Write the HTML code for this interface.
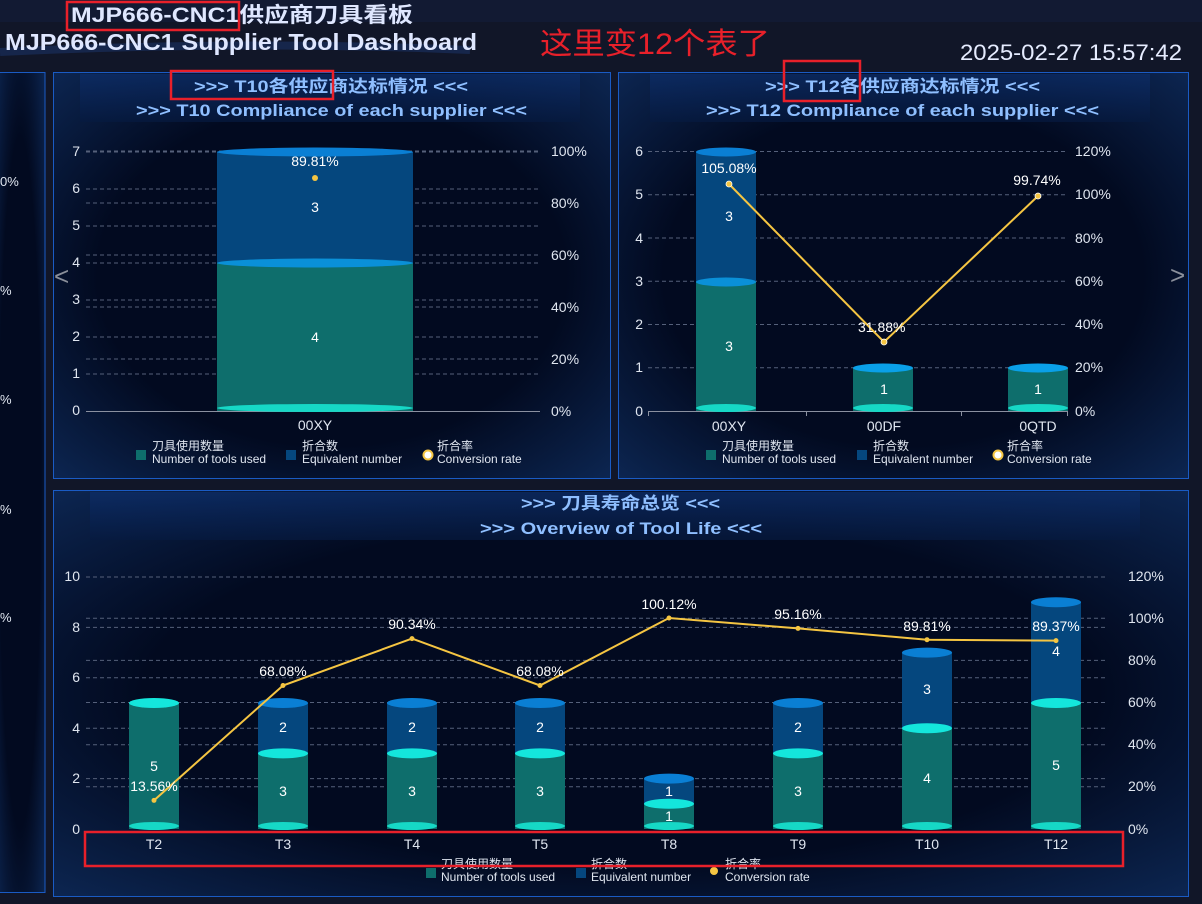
<!DOCTYPE html>
<html><head><meta charset="utf-8"><style>
html,body{margin:0;padding:0;background:#111628;}
svg{display:block;font-family:"Liberation Sans","Noto Sans CJK SC",sans-serif;}
</style></head><body>
<svg width="1202" height="904" viewBox="0 0 1202 904" xmlns="http://www.w3.org/2000/svg">
<defs>
<radialGradient id="pbg" cx="0.5" cy="0.5" r="0.7"><stop offset="0.6" stop-color="#020a20"/><stop offset="1" stop-color="#0c2550"/></radialGradient>
<linearGradient id="tb" x1="0" y1="0" x2="0" y2="1"><stop offset="0" stop-color="#0d2e6a"/><stop offset="1" stop-color="#061a40"/></linearGradient>
</defs>
<rect width="1202" height="904" fill="#111628"/>
<rect x="0" y="0" width="1202" height="22" fill="#121a33"/>
<path d="M0 52 Q250 40 470 50" stroke="#1d3f80" stroke-width="8" fill="none" opacity="0.4"/>
<text x="71" y="22" font-size="21" font-weight="bold" fill="#dfe7ff" textLength="342" lengthAdjust="spacingAndGlyphs">MJP666-CNC1供应商刀具看板</text>
<text x="5" y="50" font-size="23" font-weight="bold" fill="#dfe7ff" textLength="472" lengthAdjust="spacingAndGlyphs">MJP666-CNC1 Supplier Tool Dashboard</text>
<text x="540" y="54" font-size="30" fill="#e8202a" textLength="230" lengthAdjust="spacingAndGlyphs">这里变12个表了</text>
<text x="1182" y="60" font-size="22" fill="#e6ecff" text-anchor="end" textLength="222" lengthAdjust="spacingAndGlyphs">2025-02-27 15:57:42</text>

<!-- panels -->
<rect x="-5" y="72.5" width="50" height="820" fill="url(#pbg)" stroke="#1a5bc4"/>
<rect x="53.5" y="72.5" width="557" height="406" fill="url(#pbg)" stroke="#1a5bc4"/>
<rect x="618.5" y="72.5" width="570" height="406" fill="url(#pbg)" stroke="#1a5bc4"/>
<rect x="53.5" y="490.5" width="1135" height="406" fill="url(#pbg)" stroke="#1a5bc4"/>
<rect x="80" y="74" width="500" height="48" fill="url(#tb)" opacity="0.7"/>
<rect x="650" y="74" width="500" height="48" fill="url(#tb)" opacity="0.7"/>
<rect x="90" y="492" width="1050" height="48" fill="url(#tb)" opacity="0.7"/>

<g font-size="13" fill="#e0e6f0">
<text x="0" y="186">0%</text><text x="0" y="295">%</text><text x="0" y="404">%</text><text x="0" y="514">%</text><text x="0" y="622">%</text>
</g>

<g font-size="17" font-weight="bold" fill="#8fbfff">
<text x="194" y="92" textLength="274" lengthAdjust="spacingAndGlyphs">&gt;&gt;&gt; T10各供应商达标情况 &lt;&lt;&lt;</text>
<text x="136" y="116" textLength="391" lengthAdjust="spacingAndGlyphs">&gt;&gt;&gt; T10 Compliance of each supplier &lt;&lt;&lt;</text>
<text x="765" y="92" textLength="275" lengthAdjust="spacingAndGlyphs">&gt;&gt;&gt; T12各供应商达标情况 &lt;&lt;&lt;</text>
<text x="706" y="116" textLength="393" lengthAdjust="spacingAndGlyphs">&gt;&gt;&gt; T12 Compliance of each supplier &lt;&lt;&lt;</text>
<text x="521" y="509" textLength="199" lengthAdjust="spacingAndGlyphs">&gt;&gt;&gt; 刀具寿命总览 &lt;&lt;&lt;</text>
<text x="480" y="534" textLength="282" lengthAdjust="spacingAndGlyphs">&gt;&gt;&gt; Overview of Tool Life &lt;&lt;&lt;</text>
</g>
<text x="54" y="285" font-size="26" fill="#8a8f9a">&lt;</text>
<text x="1170" y="284" font-size="26" fill="#8a8f9a">&gt;</text>

<!-- Chart1 -->
<g stroke="#55607a" stroke-dasharray="4 3" stroke-width="1">
<line x1="86" x2="540" y1="374" y2="374"/><line x1="86" x2="540" y1="337" y2="337"/><line x1="86" x2="540" y1="300" y2="300"/><line x1="86" x2="540" y1="263" y2="263"/><line x1="86" x2="540" y1="226" y2="226"/><line x1="86" x2="540" y1="189" y2="189"/><line x1="86" x2="540" y1="152" y2="152"/>
<line x1="86" x2="540" y1="359" y2="359"/><line x1="86" x2="540" y1="307" y2="307"/><line x1="86" x2="540" y1="255" y2="255"/><line x1="86" x2="540" y1="203" y2="203"/><line x1="86" x2="540" y1="151" y2="151"/>
</g>
<line x1="86" x2="540" y1="411.5" y2="411.5" stroke="#8a90a0"/>
<rect x="217" y="263" width="196" height="148" fill="#0e6e6c"/>
<rect x="217" y="152" width="196" height="111" fill="#05477e"/>
<ellipse cx="315" cy="408" rx="98" ry="4" fill="#16d8c6"/>
<ellipse cx="315" cy="263" rx="98" ry="4.5" fill="#0a90d8"/>
<ellipse cx="315" cy="152" rx="98" ry="4.5" fill="#0a7fd4"/>
<circle cx="315" cy="178" r="3" fill="#f5c542"/>
<g font-size="14" fill="#ffffff" text-anchor="middle">
<text x="315" y="166">89.81%</text><text x="315" y="212">3</text><text x="315" y="342">4</text>
</g>
<g font-size="14" fill="#e0e6f0" text-anchor="end">
<text x="80" y="156">7</text><text x="80" y="193">6</text><text x="80" y="230">5</text><text x="80" y="267">4</text><text x="80" y="304">3</text><text x="80" y="341">2</text><text x="80" y="378">1</text><text x="80" y="415">0</text>
</g>
<g font-size="14" fill="#e0e6f0">
<text x="551" y="156">100%</text><text x="551" y="208">80%</text><text x="551" y="260">60%</text><text x="551" y="312">40%</text><text x="551" y="364">20%</text><text x="551" y="416">0%</text>
</g>
<text x="315" y="430" font-size="14" fill="#e0e6f0" text-anchor="middle">00XY</text>
<g font-size="12" fill="#e0e6f0">
<rect x="136" y="450" width="10" height="10" fill="#0e6e6c"/><text x="152" y="450">刀具使用数量</text><text x="152" y="463">Number of tools used</text>
<rect x="286" y="450" width="10" height="10" fill="#05477e"/><text x="302" y="450">折合数</text><text x="302" y="463">Equivalent number</text>
<circle cx="428" cy="455" r="4.5" fill="#fff" stroke="#f5c542" stroke-width="2"/><text x="437" y="450">折合率</text><text x="437" y="463">Conversion rate</text>
</g>

<!-- Chart2 -->
<g stroke="#55607a" stroke-dasharray="4 3">
<line x1="648" x2="1068" y1="367.7" y2="367.7"/><line x1="648" x2="1068" y1="324.5" y2="324.5"/><line x1="648" x2="1068" y1="281.3" y2="281.3"/><line x1="648" x2="1068" y1="238" y2="238"/><line x1="648" x2="1068" y1="194.8" y2="194.8"/><line x1="648" x2="1068" y1="151.5" y2="151.5"/>
</g>
<line x1="648" x2="1068" y1="411.5" y2="411.5" stroke="#8a90a0"/>
<g stroke="#8a90a0"><line x1="648.5" x2="648.5" y1="411" y2="416"/><line x1="806.5" x2="806.5" y1="411" y2="416"/><line x1="961.5" x2="961.5" y1="411" y2="416"/><line x1="1067.5" x2="1067.5" y1="411" y2="416"/></g>
<rect x="696" y="281.5" width="60" height="129.5" fill="#0e6e6c"/>
<rect x="696" y="152" width="60" height="129.5" fill="#05477e"/>
<ellipse cx="726" cy="408" rx="30" ry="4" fill="#16d8c6"/>
<ellipse cx="726" cy="282" rx="30" ry="4.5" fill="#0a90d8"/>
<ellipse cx="726" cy="152" rx="30" ry="4.5" fill="#0a7fd4"/>
<rect x="853" y="368" width="60" height="43" fill="#0e6e6c"/>
<ellipse cx="883" cy="408" rx="30" ry="4" fill="#16d8c6"/>
<ellipse cx="883" cy="368" rx="30" ry="4.5" fill="#0aa0e8"/>
<rect x="1008" y="368" width="60" height="43" fill="#0e6e6c"/>
<ellipse cx="1038" cy="408" rx="30" ry="4" fill="#16d8c6"/>
<ellipse cx="1038" cy="368" rx="30" ry="4.5" fill="#0aa0e8"/>
<polyline points="729,184 884,342 1038,196" fill="none" stroke="#f5c542" stroke-width="2"/>
<g fill="#f5c542" stroke="#fff" stroke-width="0.8"><circle cx="729" cy="184" r="3"/><circle cx="884" cy="342" r="3"/><circle cx="1038" cy="196" r="3"/></g>
<g font-size="14" fill="#ffffff" text-anchor="middle">
<text x="729" y="173">105.08%</text><text x="729" y="221">3</text><text x="729" y="351">3</text>
<text x="858" y="332" text-anchor="start">31.88%</text><text x="1037" y="185">99.74%</text>
<text x="884" y="394">1</text><text x="1038" y="394">1</text>
</g>
<g font-size="14" fill="#e0e6f0" text-anchor="end">
<text x="643" y="156">6</text><text x="643" y="199">5</text><text x="643" y="243">4</text><text x="643" y="286">3</text><text x="643" y="329">2</text><text x="643" y="372">1</text><text x="643" y="416">0</text>
</g>
<g font-size="14" fill="#e0e6f0">
<text x="1075" y="156">120%</text><text x="1075" y="199">100%</text><text x="1075" y="243">80%</text><text x="1075" y="286">60%</text><text x="1075" y="329">40%</text><text x="1075" y="372">20%</text><text x="1075" y="416">0%</text>
</g>
<g font-size="14" fill="#e0e6f0" text-anchor="middle"><text x="729" y="431">00XY</text><text x="884" y="431">00DF</text><text x="1038" y="431">0QTD</text></g>
<g font-size="12" fill="#e0e6f0">
<rect x="706" y="450" width="10" height="10" fill="#0e6e6c"/><text x="722" y="450">刀具使用数量</text><text x="722" y="463">Number of tools used</text>
<rect x="857" y="450" width="10" height="10" fill="#05477e"/><text x="873" y="450">折合数</text><text x="873" y="463">Equivalent number</text>
<circle cx="998" cy="455" r="4.5" fill="#fff" stroke="#f5c542" stroke-width="2"/><text x="1007" y="450">折合率</text><text x="1007" y="463">Conversion rate</text>
</g>

<!-- Chart3 -->
<g stroke="#55607a" stroke-dasharray="4 3">
<line x1="86" x2="1108" y1="778.6" y2="778.6"/><line x1="86" x2="1108" y1="728.2" y2="728.2"/><line x1="86" x2="1108" y1="677.8" y2="677.8"/><line x1="86" x2="1108" y1="627.4" y2="627.4"/><line x1="86" x2="1108" y1="577" y2="577"/>
<line x1="86" x2="1108" y1="786.8" y2="786.8"/><line x1="86" x2="1108" y1="744.7" y2="744.7"/><line x1="86" x2="1108" y1="702.5" y2="702.5"/><line x1="86" x2="1108" y1="660.4" y2="660.4"/><line x1="86" x2="1108" y1="618.2" y2="618.2"/>
</g>
<g>
<rect x="129" y="703" width="50" height="126" fill="#0e6e6c"/><ellipse cx="154" cy="826" rx="25" ry="4" fill="#16d8c6"/><ellipse cx="154" cy="703" rx="25" ry="5" fill="#14e6dc"/>
<rect x="258" y="753.4" width="50" height="75.6" fill="#0e6e6c"/><rect x="258" y="703" width="50" height="50.4" fill="#05477e"/><ellipse cx="283" cy="826" rx="25" ry="4" fill="#16d8c6"/><ellipse cx="283" cy="753.4" rx="25" ry="5" fill="#14e6dc"/><ellipse cx="283" cy="703" rx="25" ry="5" fill="#0a7fd4"/>
<rect x="387" y="753.4" width="50" height="75.6" fill="#0e6e6c"/><rect x="387" y="703" width="50" height="50.4" fill="#05477e"/><ellipse cx="412" cy="826" rx="25" ry="4" fill="#16d8c6"/><ellipse cx="412" cy="753.4" rx="25" ry="5" fill="#14e6dc"/><ellipse cx="412" cy="703" rx="25" ry="5" fill="#0a7fd4"/>
<rect x="515" y="753.4" width="50" height="75.6" fill="#0e6e6c"/><rect x="515" y="703" width="50" height="50.4" fill="#05477e"/><ellipse cx="540" cy="826" rx="25" ry="4" fill="#16d8c6"/><ellipse cx="540" cy="753.4" rx="25" ry="5" fill="#14e6dc"/><ellipse cx="540" cy="703" rx="25" ry="5" fill="#0a7fd4"/>
<rect x="644" y="803.8" width="50" height="25.2" fill="#0e6e6c"/><rect x="644" y="778.6" width="50" height="25.2" fill="#05477e"/><ellipse cx="669" cy="826" rx="25" ry="4" fill="#16d8c6"/><ellipse cx="669" cy="803.8" rx="25" ry="5" fill="#14e6dc"/><ellipse cx="669" cy="778.6" rx="25" ry="5" fill="#0a7fd4"/>
<rect x="773" y="753.4" width="50" height="75.6" fill="#0e6e6c"/><rect x="773" y="703" width="50" height="50.4" fill="#05477e"/><ellipse cx="798" cy="826" rx="25" ry="4" fill="#16d8c6"/><ellipse cx="798" cy="753.4" rx="25" ry="5" fill="#14e6dc"/><ellipse cx="798" cy="703" rx="25" ry="5" fill="#0a7fd4"/>
<rect x="902" y="728.2" width="50" height="100.8" fill="#0e6e6c"/><rect x="902" y="652.6" width="50" height="75.6" fill="#05477e"/><ellipse cx="927" cy="826" rx="25" ry="4" fill="#16d8c6"/><ellipse cx="927" cy="728.2" rx="25" ry="5" fill="#14e6dc"/><ellipse cx="927" cy="652.6" rx="25" ry="5" fill="#0a7fd4"/>
<rect x="1031" y="703" width="50" height="126" fill="#0e6e6c"/><rect x="1031" y="602.2" width="50" height="100.8" fill="#05477e"/><ellipse cx="1056" cy="826" rx="25" ry="4" fill="#16d8c6"/><ellipse cx="1056" cy="703" rx="25" ry="5" fill="#14e6dc"/><ellipse cx="1056" cy="602.2" rx="25" ry="5" fill="#0a7fd4"/>
</g>
<polyline points="154,800.4 283,685.5 412,638.6 540,685.5 669,618 798,628.4 927,639.7 1056,640.6" fill="none" stroke="#f5c542" stroke-width="2"/>
<g fill="#f5c542"><circle cx="154" cy="800.4" r="2.5"/><circle cx="283" cy="685.5" r="2.5"/><circle cx="412" cy="638.6" r="2.5"/><circle cx="540" cy="685.5" r="2.5"/><circle cx="669" cy="618" r="2.5"/><circle cx="798" cy="628.4" r="2.5"/><circle cx="927" cy="639.7" r="2.5"/><circle cx="1056" cy="640.6" r="2.5"/></g>
<g font-size="14" fill="#ffffff" text-anchor="middle">
<text x="154" y="771">5</text><text x="154" y="791">13.56%</text>
<text x="283" y="676">68.08%</text><text x="283" y="732">2</text><text x="283" y="796">3</text>
<text x="412" y="629">90.34%</text><text x="412" y="732">2</text><text x="412" y="796">3</text>
<text x="540" y="676">68.08%</text><text x="540" y="732">2</text><text x="540" y="796">3</text>
<text x="669" y="609">100.12%</text><text x="669" y="796">1</text><text x="669" y="821">1</text>
<text x="798" y="619">95.16%</text><text x="798" y="732">2</text><text x="798" y="796">3</text>
<text x="927" y="631">89.81%</text><text x="927" y="694">3</text><text x="927" y="783">4</text>
<text x="1056" y="631">89.37%</text><text x="1056" y="656">4</text><text x="1056" y="770">5</text>
</g>
<g font-size="14" fill="#e0e6f0" text-anchor="end">
<text x="80" y="581">10</text><text x="80" y="632">8</text><text x="80" y="682">6</text><text x="80" y="733">4</text><text x="80" y="783">2</text><text x="80" y="834">0</text>
</g>
<g font-size="14" fill="#e0e6f0">
<text x="1128" y="581">120%</text><text x="1128" y="623">100%</text><text x="1128" y="665">80%</text><text x="1128" y="707">60%</text><text x="1128" y="749">40%</text><text x="1128" y="791">20%</text><text x="1128" y="834">0%</text>
</g>
<g font-size="14" fill="#e0e6f0" text-anchor="middle">
<text x="154" y="849">T2</text><text x="283" y="849">T3</text><text x="412" y="849">T4</text><text x="540" y="849">T5</text><text x="669" y="849">T8</text><text x="798" y="849">T9</text><text x="927" y="849">T10</text><text x="1056" y="849">T12</text>
</g>
<g font-size="12" fill="#e0e6f0">
<rect x="426" y="868" width="10" height="10" fill="#0e6e6c"/><text x="441" y="868">刀具使用数量</text><text x="441" y="881">Number of tools used</text>
<rect x="576" y="868" width="10" height="10" fill="#05477e"/><text x="591" y="868">折合数</text><text x="591" y="881">Equivalent number</text>
<circle cx="714" cy="871" r="4" fill="#f5c542"/><text x="725" y="868">折合率</text><text x="725" y="881">Conversion rate</text>
</g>

<!-- red annotation boxes -->
<g fill="none" stroke="#e8202a" stroke-width="2.5">
<rect x="67" y="2" width="172" height="28"/>
<rect x="171" y="71" width="162" height="28"/>
<rect x="784" y="61" width="76" height="40"/>
<rect x="85" y="832" width="1038" height="34"/>
</g>
</svg>
</body></html>
